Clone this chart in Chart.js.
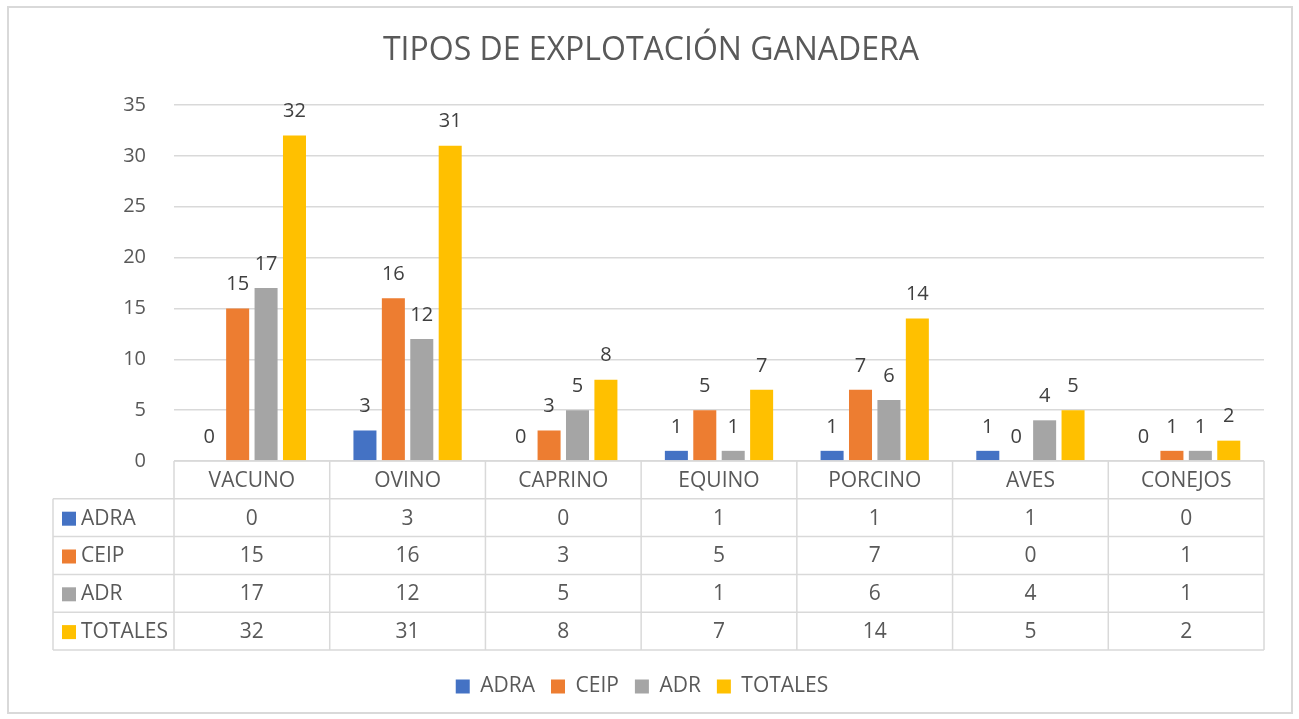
<!DOCTYPE html>
<html>
<head>
<meta charset="utf-8">
<script src="https://cdn.jsdelivr.net/npm/chart.js@4.4.0/dist/chart.umd.min.js"></script>
<style>
  html, body { margin: 0; padding: 0; background: #fff; }
  #wrap { width: 1299px; height: 719px; }
</style>
</head>
<body>
<div id="wrap"><canvas id="chart" width="1299" height="719"></canvas></div>
<script>
const categories = ["VACUNO", "OVINO", "CAPRINO", "EQUINO", "PORCINO", "AVES", "CONEJOS"];
const adra = [0, 3, 0, 1, 1, 1, 0];
const ceip = [15, 16, 3, 5, 7, 0, 1];
const adr = [17, 12, 5, 1, 6, 4, 1];
const totales = [32, 31, 8, 7, 14, 5, 2];
const seriesNames = ["ADRA", "CEIP", "ADR", "TOTALES"];
const colors = ["#4472C4", "#ED7D31", "#A5A5A5", "#FFC000"];

const FONT = "'Open Sans', 'Noto Sans', sans-serif";
const gridColor = "#d9d9d9";

// title, outer frame, value labels and the data table under the axis
const decor = {
  id: "decor",
  beforeDraw(chart) {
    const c = chart.ctx;
    c.save();
    c.fillStyle = "#fff";
    c.fillRect(0, 0, chart.width, chart.height);
    c.strokeStyle = gridColor;
    c.lineWidth = 2;
    c.strokeRect(8, 7, 1284, 706);
    c.fillStyle = "#595959";
    c.font = "32px " + FONT;
    c.textAlign = "center";
    c.textBaseline = "middle";
    c.fillText("TIPOS DE EXPLOTACIÓN GANADERA", 651, 51);
    c.restore();
  },
  afterDatasetsDraw(chart) {
    const c = chart.ctx;
    c.save();
    c.font = "20px " + FONT;
    c.fillStyle = "#404040";
    c.textAlign = "center";
    c.textBaseline = "middle";
    chart.data.datasets.forEach((ds, i) => {
      chart.getDatasetMeta(i).data.forEach((bar, j) => {
        c.fillText(String(ds.data[j]), bar.x, bar.y - 24);
      });
    });

    // table
    const x = chart.scales.x;
    const area = chart.chartArea;
    const top = area.bottom;
    const rowH = 37.8;
    const left = 53;
    const step = (area.right - area.left) / categories.length;
    c.strokeStyle = gridColor;
    c.lineWidth = 1.5;
    c.beginPath();
    c.moveTo(area.left, top); c.lineTo(area.right, top);
    for (let r = 1; r <= 5; r++) {
      c.moveTo(left, top + r * rowH); c.lineTo(area.right, top + r * rowH);
    }
    for (let k = 0; k <= categories.length; k++) {
      const vx = area.left + k * step;
      c.moveTo(vx, top); c.lineTo(vx, top + 5 * rowH);
    }
    c.moveTo(left, top + rowH); c.lineTo(left, top + 5 * rowH);
    c.stroke();

    c.font = "21px " + FONT;
    c.fillStyle = "#595959";
    c.textAlign = "center";
    categories.forEach((cat, j) => {
      c.fillText(cat, x.getPixelForValue(j), top + rowH / 2 + 1);
    });
    chart.data.datasets.forEach((ds, i) => {
      const cy = top + (i + 1) * rowH + rowH / 2 + 1;
      c.fillStyle = ds.backgroundColor;
      c.fillRect(62, cy - 7, 14, 14);
      c.fillStyle = "#595959";
      c.textAlign = "left";
      c.fillText(ds.label, 81, cy);
      c.textAlign = "center";
      ds.data.forEach((v, j) => {
        c.fillText(String(v), x.getPixelForValue(j), cy);
      });
    });
    c.restore();
  }
};

const seriesData = [adra, ceip, adr, totales];

new Chart(document.getElementById("chart"), {
  type: "bar",
  data: {
    labels: categories,
    datasets: seriesNames.map((name, i) => ({
      label: name,
      data: seriesData[i],
      backgroundColor: colors[i],
      barPercentage: 0.81,
      categoryPercentage: 0.73
    }))
  },
  options: {
    responsive: false,
    animation: false,
    layout: { padding: { top: 105, left: 20, right: 35, bottom: 12 } },
    plugins: {
      title: { display: false },
      tooltip: { enabled: false },
      legend: {
        position: "bottom",
        labels: {
          boxWidth: 14,
          boxHeight: 14,
          padding: 16,
          color: "#595959",
          font: { family: FONT, size: 21 }
        }
      }
    },
    scales: {
      x: {
        grid: { display: false },
        border: { display: false },
        ticks: { display: false },
        afterFit(scale) { scale.height = 199; }
      },
      y: {
        min: 0,
        max: 35,
        ticks: {
          stepSize: 5,
          padding: 28,
          color: "#595959",
          font: { family: FONT, size: 20 }
        },
        grid: { color: gridColor, lineWidth: 1.5, drawTicks: false },
        border: { display: false },
        afterFit(scale) { scale.width = 154; }
      }
    }
  },
  plugins: [decor]
});
</script>
</body>
</html>
